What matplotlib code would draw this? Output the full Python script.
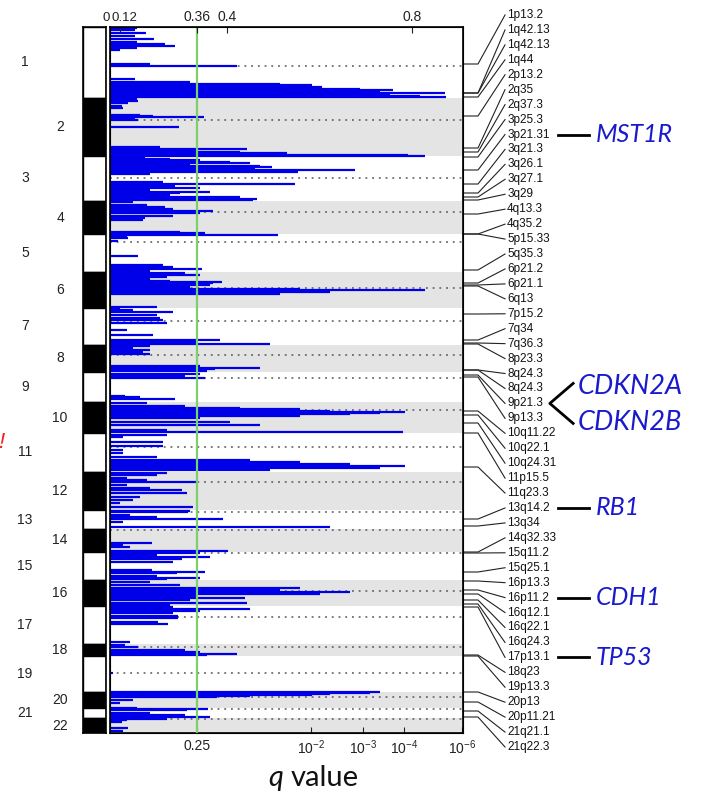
import numpy as np
import matplotlib
matplotlib.use("Agg")
import matplotlib.pyplot as plt
from matplotlib.transforms import ScaledTranslation

plt.rcParams['font.family'] = ['Liberation Sans', 'DejaVu Sans']
plt.rcParams['mathtext.default'] = 'regular'

# ---------------- data ----------------
chrom_names = [str(i) for i in range(1, 23)]
chrom_sizes = [71, 58, 45, 33, 38, 36, 37, 27, 30, 31, 39, 38, 19, 23, 28, 26, 38, 12, 36, 16, 10, 15]
centromeres = [39, 93, 151, 185, 215, 261, 294, 328, 351, 383, 420, 455, 485, 503, 526, 564, 590, 620, 646, 670, 682, 692]

# deletion G-score profile per chromosome (genome position, G-score)
chr1_pos = [1, 3, 6, 9, 12, 15, 17, 19, 21, 23, 37, 39, 52, 55, 57, 58, 60, 61, 62, 63, 64, 65, 66, 67, 68, 69, 70]
chr1_g = [0.173, 0.167, 0.2, 0.167, 0.226, 0.173, 0.26, 0.291, 0.173, 0.12, 0.214, 0.422, 0.167, 0.338, 0.515,
          0.584, 0.605, 0.558, 0.688, 0.759, 0.731, 0.666, 0.871, 0.752, 0.709, 0.817, 0.873]
chr2_pos = [72, 74, 76, 79, 81, 88, 89, 90, 91, 93, 100, 120, 122, 124, 125, 126, 127, 127.8, 128.6]
chr2_g = [0.173, 0.176, 0.145, 0.126, 0.129, 0.182, 0.223, 0.369, 0.167, 0.176, 0.304, 0.245, 0.443, 0.36,
          0.428, 0.53, 0.471, 0.791, 0.828]
chr3_pos = [130, 132, 133, 135, 136, 138, 139, 140, 141, 143, 145, 147, 155, 157, 159, 161, 163, 165, 166, 168,
            170, 172, 173]
chr3_g = [0.198, 0.276, 0.364, 0.406, 0.45, 0.338, 0.471, 0.497, 0.461, 0.677, 0.553, 0.214, 0.254, 0.547,
          0.291, 0.364, 0.214, 0.377, 0.307, 0.276, 0.428, 0.465, 0.456]
chr4_pos = [175, 178, 180, 182, 184, 186, 189, 191, 193, 205, 206]
chr4_g = [0.161, 0.204, 0.26, 0.285, 0.381, 0.364, 0.285, 0.198, 0.192, 0.307, 0.371]
chr5_pos = [208, 210, 211, 214, 229, 238, 240, 242, 244]
chr5_g = [0.51, 0.142, 0.145, 0.096, 0.176, 0.254, 0.285, 0.367, 0.214]
chr6_pos = [246, 248, 250, 252, 254, 255, 256, 258, 260, 262, 263, 265, 267, 280]
chr6_g = [0.323, 0.364, 0.266, 0.214, 0.276, 0.393, 0.381, 0.377, 0.338, 0.558, 0.828, 0.623, 0.515, 0.235]
chr7_pos = [282, 283, 285, 288, 291, 293, 296, 303, 308, 313, 315, 317]
chr7_g = [0.12, 0.161, 0.285, 0.235, 0.245, 0.254, 0.266, 0.142, 0.223, 0.391, 0.36, 0.493]
chr8_pos = [319, 321, 323, 325, 327, 339, 341, 342, 344]
chr8_g = [0.214, 0.161, 0.214, 0.192, 0.214, 0.364, 0.471, 0.384, 0.373]
chr9_pos = [347, 349, 351, 369, 370, 372]
chr9_g = [0.364, 0.323, 0.371, 0.136, 0.182, 0.291]
chr10_pos = [376, 379, 381, 382, 384, 385, 386, 387, 389, 391, 395, 398, 403, 405]
chr10_g = [0.204, 0.323, 0.428, 0.558, 0.623, 0.785, 0.731, 0.666, 0.558, 0.364, 0.406, 0.471, 0.266, 0.78]
chr11_pos = [408, 410, 415, 419, 423, 426, 430, 433, 435, 437, 439, 441, 443]
chr11_g = [0.266, 0.129, 0.254, 0.254, 0.129, 0.129, 0.235, 0.45, 0.558, 0.666, 0.785, 0.731, 0.493]
chr12_pos = [446, 448, 451, 453, 455, 458, 461, 463, 466, 470, 473, 476, 480]
chr12_g = [0.266, 0.235, 0.142, 0.204, 0.36, 0.142, 0.214, 0.313, 0.329, 0.182, 0.161, 0.12, 0.348]
chr13_pos = [484, 485, 488, 490, 492, 495, 500]
chr13_g = [0.338, 0.332, 0.151, 0.235, 0.395, 0.129, 0.623]
chr14_pos = [516, 518, 520, 524]
chr14_g = [0.22, 0.129, 0.151, 0.402]
chr15_pos = [526, 528, 530, 532, 535, 543, 545, 546, 549, 551, 552]
chr15_g = [0.364, 0.235, 0.377, 0.313, 0.285, 0.22, 0.371, 0.298, 0.235, 0.364, 0.266]
chr16_pos = [555, 558, 561, 563, 565, 567, 569, 571, 573, 576, 578]
chr16_g = [0.214, 0.307, 0.558, 0.515, 0.666, 0.601, 0.36, 0.439, 0.338, 0.443, 0.276]
chr17_pos = [580, 582, 584, 586, 589, 591, 595, 597, 615]
chr17_g = [0.285, 0.45, 0.364, 0.285, 0.301, 0.301, 0.238, 0.27, 0.151]
chr18_pos = [618, 620, 623, 625, 627, 628]
chr18_g = [0.136, 0.176, 0.323, 0.364, 0.422, 0.373]
chr19_pos = [646]
chr19_g = [0.036]
chr20_pos = [665, 666, 667, 668, 669, 670, 673, 676]
chr20_g = [0.731, 0.709, 0.623, 0.584, 0.45, 0.387, 0.161, 0.12]
chr21_pos = [681, 682, 683, 686, 688, 690]
chr21_g = [0.173, 0.375, 0.329, 0.214, 0.323, 0.377]
chr22_pos = [692, 693, 695, 701, 704]
chr22_g = [0.266, 0.142, 0.126, 0.145, 0.129]

peak_bands = ["1p13.2", "1q42.13", "1q42.13", "1q44", "2p13.2", "2q35", "2q37.3", "3p25.3", "3p21.31",
              "3q21.3", "3q26.1", "3q27.1", "3q29", "4q13.3", "4q35.2", "5p15.33", "5q35.3", "6p21.2",
              "6p21.1", "6q13", "7p15.2", "7q34", "7q36.3", "8p23.3", "8q24.3", "8q24.3", "9p21.3",
              "9p13.3", "10q11.22", "10q22.1", "10q24.31", "11p15.5", "11q23.3", "13q14.2", "13q34",
              "14q32.33", "15q11.2", "15q25.1", "16p13.3", "16p11.2", "16q12.1", "16q22.1", "16q24.3",
              "17p13.1", "18q23", "19p13.3", "20p13", "20p11.21", "21q21.1", "21q22.3"]
peak_pos = [37, 66, 66, 70, 89, 121, 125, 130, 143, 157, 166, 170, 173, 187, 207, 207, 243, 256, 258, 259,
            287, 313, 316, 317, 343, 343, 348, 350, 384, 388, 396, 406, 440, 492, 499, 525, 526, 545, 554,
            563, 567, 573, 577, 580, 628, 629, 665, 675, 684, 690]

genes_single = ["MST1R", "RB1", "CDH1", "TP53"]
genes_single_band = ["3p21.31", "13q14.2", "16p11.2", "17p13.1"]
genes_pair = ["CDKN2A", "CDKN2B"]
genes_pair_band = "9p21.3"

g_ticks = [0, 0.12, 0.36, 0.4, 0.8]
g_tick_labels = ["0", "0.12", "0.36", "0.4", "0.8"]
q_tick_g = [0.36, 0.582, 0.694, 0.783, 0.908]
q_tick_labels = ["0.25", "$10^{-2}$", "$10^{-3}$", "$10^{-4}$", "$10^{-6}$"]
g_threshold = 0.36   # corresponds to q = 0.25

profiles = [(chr1_pos, chr1_g), (chr2_pos, chr2_g), (chr3_pos, chr3_g), (chr4_pos, chr4_g),
            (chr5_pos, chr5_g), (chr6_pos, chr6_g), (chr7_pos, chr7_g), (chr8_pos, chr8_g),
            (chr9_pos, chr9_g), (chr10_pos, chr10_g), (chr11_pos, chr11_g), (chr12_pos, chr12_g),
            (chr13_pos, chr13_g), (chr14_pos, chr14_g), (chr15_pos, chr15_g), (chr16_pos, chr16_g),
            (chr17_pos, chr17_g), (chr18_pos, chr18_g), (chr19_pos, chr19_g), (chr20_pos, chr20_g),
            (chr21_pos, chr21_g), (chr22_pos, chr22_g)]

# ---------------- scale (piecewise axis as in the figure) ----------------
_ga = np.array([-1.0, 0.0, 0.12, 0.36, 0.4, 0.8, 2.0])
_ua = np.array([-83.3, 0.0, 10.0, 87.0, 117.0, 302.0, 857.0])


def fwd(x):
    return np.interp(x, _ga, _ua)


def inv(u):
    return np.interp(u, _ua, _ga)


# ---------------- figure ----------------
W, H = 709, 796
fig = plt.figure(figsize=(W / 100, H / 100), dpi=100)
ax = fig.add_axes([110 / W, 1 - 733 / H, 353 / W, 706 / H])
ax_id = fig.add_axes([83 / W, 1 - 733 / H, 23 / W, 706 / H])

genome_len = float(np.sum(chrom_sizes))
starts = np.concatenate([[0], np.cumsum(chrom_sizes)[:-1]])
centers = starts + np.array(chrom_sizes) / 2.0

# ideogram
colors = ['white' if i % 2 == 0 else 'black' for i in range(22)]
ax_id.barh(centers, 1, height=chrom_sizes, left=0, color=colors, edgecolor='black', linewidth=1)
ax_id.set_xlim(0, 1)
ax_id.set_ylim(genome_len, 0)
ax_id.set_xticks([])
ax_id.set_yticks([])
for s in ax_id.spines.values():
    s.set_linewidth(1.2)
tr = ax_id.get_yaxis_transform()
for i, (name, c) in enumerate(zip(chrom_names, centers)):
    x = -2.52 if i % 2 == 0 else -1.0
    ax_id.text(x, c, name, transform=tr, ha='center', va='center', fontsize=10, color='#222222')

# main panel
ax.set_xscale('function', functions=(fwd, inv))
ax.set_xlim(0, 0.91)
ax.set_ylim(genome_len, 0)
for i in range(22):
    if i % 2 == 1:
        ax.axhspan(starts[i], starts[i] + chrom_sizes[i], color='#e4e4e4', lw=0, zorder=0)
ax.hlines(centromeres, 0, 0.91, colors='#555555', linestyles=(0, (1.2, 3.2)), lw=1.1, zorder=1)
for pos, g in profiles:
    ax.hlines(pos, 0, g, colors='#0000e8', lw=1.6, zorder=2)
ax.axvline(g_threshold, color='#7ccf6a', lw=1.6, zorder=3)

ax.set_yticks([])
ax.set_xticks(q_tick_g)
ax.set_xticklabels(q_tick_labels)
ax.xaxis.set_minor_locator(matplotlib.ticker.NullLocator())
ax.tick_params(axis='x', direction='in', length=4, labelsize=10, pad=4, colors='#222222')
for s in ax.spines.values():
    s.set_linewidth(1.2)

ax_top = ax.twiny()
ax_top.set_xscale('function', functions=(fwd, inv))
ax_top.set_xlim(0, 0.91)
ax_top.set_xticks(g_ticks)
ax_top.set_xticklabels(g_tick_labels)
ax_top.xaxis.set_minor_locator(matplotlib.ticker.NullLocator())
ax_top.tick_params(axis='x', direction='in', length=4, labelsize=10, pad=2, colors='#222222')
tl = ax_top.get_xticklabels()
tl[0].set_ha('right')
tl[0].set_fontsize(9.5)
tl[1].set_ha('left')
tl[1].set_fontsize(9.5)
tl[1].set_transform(tl[1].get_transform() + ScaledTranslation(-9 / 100, 0, fig.dpi_scale_trans))

# peak labels with leader lines
ytr = ax.get_yaxis_transform()
label_y = np.linspace(-12, 720, len(peak_bands))
for band, p, ly in zip(peak_bands, peak_pos, label_y):
    ax.plot([1.0, 1.0425, 1.119], [p, p, ly], transform=ytr, clip_on=False, color='#222222', lw=0.8)
    ax.text(1.125, ly, band, transform=ytr, ha='left', va='center', fontsize=8.5, color='#111111')

gene_color = '#1a1acc'
gene_font = dict(family=['Lato', 'DejaVu Sans'], style='italic', fontsize=18, color=gene_color)
for gene, band in zip(genes_single, genes_single_band):
    ly = label_y[peak_bands.index(band)]
    ax.plot([1.268, 1.358], [ly, ly], transform=ytr, clip_on=False, color='black', lw=2)
    ax.text(1.375, ly, gene, transform=ytr, ha='left', va='center', **gene_font)
ly = label_y[peak_bands.index(genes_pair_band)]
ax.plot([1.312, 1.246, 1.312], [ly - 20, ly, ly + 20], transform=ytr, clip_on=False, color='black', lw=2)
pair_font = dict(gene_font, fontsize=19.5)
ax.text(1.326, ly - 17, genes_pair[0], transform=ytr, ha='left', va='center', **pair_font)
ax.text(1.326, ly + 19, genes_pair[1], transform=ytr, ha='left', va='center', **pair_font)

# axis title
fig.text(268 / W, 1 - 786 / H, 'q', family=['Lato', 'DejaVu Sans'], style='italic', fontsize=21,
         ha='left', va='baseline', color='#111111')
fig.text(291 / W, 1 - 786 / H, 'value', family=['Lato', 'DejaVu Sans'], fontsize=21,
         ha='left', va='baseline', color='#111111')

# cut-off red mark at the left edge
fig.text(4 / W, 1 - 442 / H, '!', color='#ee2222', fontsize=16, style='italic', ha='right', va='center')

fig.savefig('out.png', dpi=100)
